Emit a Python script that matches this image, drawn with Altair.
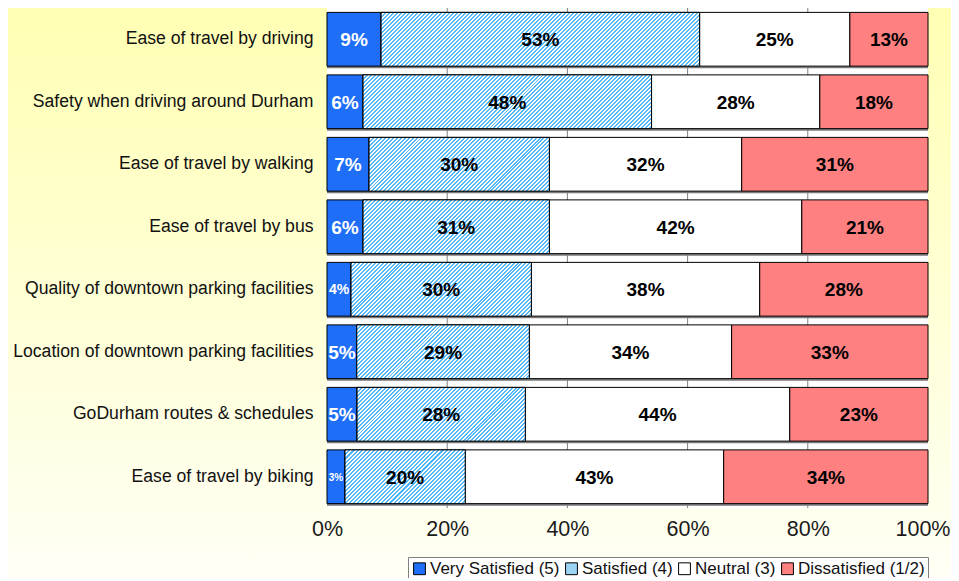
import altair as alt
import pandas as pd

items = [
    "Ease of travel by driving",
    "Safety when driving around Durham",
    "Ease of travel by walking",
    "Ease of travel by bus",
    "Quality of downtown parking facilities",
    "Location of downtown parking facilities",
    "GoDurham routes & schedules",
    "Ease of travel by biking",
]
very = [9, 6, 7, 6, 4, 5, 5, 3]
sat = [53, 48, 30, 31, 30, 29, 28, 20]
neutral = [25, 28, 32, 42, 38, 34, 44, 43]
dis = [13, 18, 31, 21, 28, 33, 23, 34]
cats = ["Very Satisfied (5)", "Satisfied (4)", "Neutral (3)", "Dissatisfied (1/2)"]
ticks = [0, 20, 40, 60, 80, 100]

colors = ["#1E6EF8", "#9CD4F5", "#FFFFFF", "#FF8080"]
FONT = "Liberation Sans"
PW, PH = 601, 500
P_IN, P_OUT = 0.14, 0.07

rows = []
for i, it in enumerate(items):
    for j, (c, vals) in enumerate(zip(cats, [very, sat, neutral, dis])):
        rows.append({"item": it, "cat": c, "order": j, "v": vals[i]})
df = pd.DataFrame(rows)

base = (
    alt.Chart(df)
    .transform_joinaggregate(total="sum(v)", groupby=["item"])
    .transform_window(cum="sum(v)", groupby=["item"], sort=[alt.SortField("order")], frame=[None, 0])
    .transform_calculate(
        start="(datum.cum - datum.v) / datum.total * 100",
        end="datum.cum / datum.total * 100",
    )
    .transform_calculate(mid="(datum.start + datum.end) / 2")
)

xs = alt.Scale(domain=[0, 100], nice=False, zero=True)
ys = alt.Scale(domain=items, paddingInner=P_IN, paddingOuter=P_OUT)
Y = alt.Y("item:N", scale=ys, sort=items,
          axis=alt.Axis(title=None, ticks=False, domain=False, labelFontSize=17.6,
                        labelPadding=14, labelFont=FONT, labelColor="#111111", labelLimit=400,
                        zindex=2))

# background gradient panel
bg = alt.Chart(pd.DataFrame({"a": [0]})).mark_rect(
    fill={"gradient": "linear", "x1": 0, "y1": 0, "x2": 0, "y2": 1,
          "stops": [{"offset": 0, "color": "#FFFFB4"}, {"offset": 1, "color": "#FFFFF6"}]}
).encode(x=alt.value(-319), x2=alt.value(PW + 23), y=alt.value(0), y2=alt.value(575))

plotbg = alt.Chart(pd.DataFrame({"a": [0]})).mark_rect(fill="white").encode(
    x=alt.value(0), x2=alt.value("width"), y=alt.value(0), y2=alt.value("height"))

grid = alt.Chart(pd.DataFrame({"t": ticks[1:-1]})).mark_rule(color="#808080", strokeWidth=1).encode(
    x=alt.X("t:Q", scale=xs))

shadow = base.transform_filter(alt.datum.order == 0).mark_bar(
    color="#7a7a7a", yOffset=2).encode(
    x=alt.value(0), x2=alt.value("width"), y=Y)

bars = base.mark_bar(stroke="black", strokeWidth=1).encode(
    x=alt.X("start:Q", scale=xs,
            axis=alt.Axis(values=ticks, labelExpr="datum.value + '%'", title=None, grid=False,
                          ticks=False, domain=False, labelFontSize=21.5, labelFont=FONT,
                          labelColor="#1a1a1a", labelPadding=10,
                          labelAlign={"condition": {"test": "datum.value == 100", "value": "right"},
                                      "value": "center"},
                          labelOffset={"condition": {"test": "datum.value == 100", "value": 22},
                                       "value": 0},
                          labelFlush=False, labelOverlap=False, zindex=2)),
    x2="end:Q",
    y=Y,
    fill=alt.Fill("cat:N", scale=alt.Scale(domain=cats, range=colors), sort=cats,
                  legend=alt.Legend(title=None, orient="none", legendX=81, legendY=549,
                                    direction="horizontal", symbolType="square", symbolSize=140,
                                    symbolStrokeColor="black", symbolStrokeWidth=1,
                                    labelFontSize=17, labelFont=FONT, labelColor="#111111",
                                    strokeColor="#808080", fillColor="white", padding=3,
                                    columnPadding=3, labelOffset=2, labelLimit=300)),
)


def hatch(W, H, period=4.0, color="#55B8FA"):
    k = H / W
    a = (1 + k) / (1 + k * k)
    n = max(1, round((W + H) / period))
    stops = []
    for p in range(n):
        o0 = round(p / n, 6)
        o1 = round((p + 0.5) / n, 6)
        o2 = round((p + 1) / n, 6)
        stops += [{"offset": o0, "color": color}, {"offset": o1, "color": color},
                  {"offset": o1, "color": "white"}, {"offset": o2, "color": "white"}]
    return {"gradient": "linear", "x1": 0, "y1": 0, "x2": round(a, 6), "y2": round(a * k, 6),
            "stops": stops}


step = PH / (len(items) - P_IN + 2 * P_OUT)
BH = step * (1 - P_IN)
hatches = []
for i, it in enumerate(items):
    tot = very[i] + sat[i] + neutral[i] + dis[i]
    W = sat[i] / tot * PW
    hatches.append(
        base.transform_filter((alt.datum.item == it) & (alt.datum.cat == cats[1]))
        .mark_bar(fill=hatch(W, BH), stroke="black", strokeWidth=1)
        .encode(x=alt.X("start:Q", scale=xs), x2="end:Q", y=Y)
    )

labels = base.mark_text(font=FONT, fontWeight="bold", baseline="middle", dy=1).encode(
    x=alt.X("mid:Q", scale=xs),
    y=Y,
    text=alt.Text("label:N"),
    color=alt.condition(alt.datum.cat == cats[0], alt.value("white"), alt.value("black")),
    size=alt.when((alt.datum.cat == cats[0]) & (alt.datum.v <= 3)).then(alt.value(10))
    .when((alt.datum.cat == cats[0]) & (alt.datum.v <= 4)).then(alt.value(14))
    .otherwise(alt.value(19)),
).transform_calculate(label="format(datum.v, 'd') + '%'")

chart = alt.layer(bg, plotbg, grid, shadow, bars, *hatches, labels).properties(
    width=PW, height=PH,
    autosize=alt.AutoSizeParams(type="none"),
    padding={"left": 319, "top": 0, "right": 23, "bottom": 70},
).configure_view(stroke="black", strokeWidth=2.5).configure(background="#FFFFF6")

chart.save("out.html", embed_options={"renderer": "svg", "actions": False})
